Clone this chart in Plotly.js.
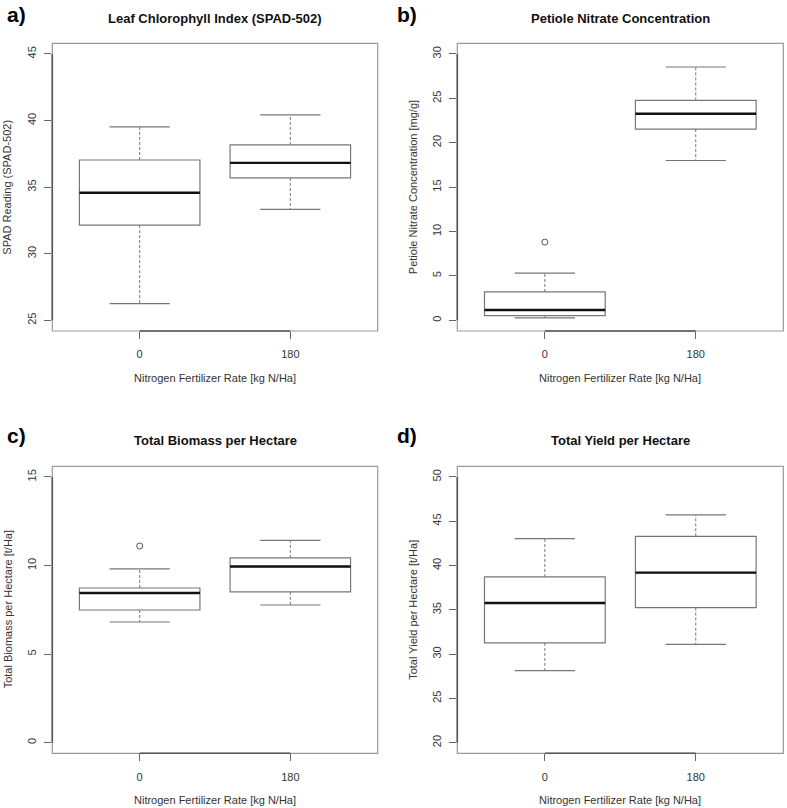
<!DOCTYPE html>
<html>
<head>
<meta charset="utf-8">
<script src="https://cdn.plot.ly/plotly-3.0.1.min.js"></script>
<style>html,body{margin:0;padding:0;background:#fff;}#chart{width:787px;height:808px;}</style>
</head>
<body>
<div id="chart"></div>
<script>
// ---- data ----
const categories = ['0', '180'];
const xTitle = 'Nitrogen Fertilizer Rate [kg N/Ha]';

const spadQ1 = [32.15, 35.69];
const spadMedian = [34.58, 36.82];
const spadQ3 = [37.04, 38.17];
const spadLow = [26.25, 33.33];
const spadHigh = [39.53, 40.43];
const spadOutliers = [[], []];
const spadTicks = [25, 30, 35, 40, 45];

const nitrateQ1 = [0.53, 21.53];
const nitrateMedian = [1.17, 23.26];
const nitrateQ3 = [3.2, 24.77];
const nitrateLow = [0.27, 18.0];
const nitrateHigh = [5.31, 28.53];
const nitrateOutliers = [[8.81], []];
const nitrateTicks = [0, 5, 10, 15, 20, 25, 30];

const biomassQ1 = [7.49, 8.51];
const biomassMedian = [8.45, 9.94];
const biomassQ3 = [8.73, 10.43];
const biomassLow = [6.81, 7.77];
const biomassHigh = [9.81, 11.42];
const biomassOutliers = [[11.1], []];
const biomassTicks = [0, 5, 10, 15];

const yieldQ1 = [31.26, 35.25];
const yieldMedian = [35.77, 39.2];
const yieldQ3 = [38.71, 43.3];
const yieldLow = [28.13, 31.1];
const yieldHigh = [43.04, 45.71];
const yieldOutliers = [[], []];
const yieldTicks = [20, 25, 30, 35, 40, 45, 50];

const panels = [
  {letter: 'a)', title: 'Leaf Chlorophyll Index (SPAD-502)', ytitle: 'SPAD Reading (SPAD-502)',
   q1: spadQ1, med: spadMedian, q3: spadQ3, lo: spadLow, hi: spadHigh, out: spadOutliers, ticks: spadTicks},
  {letter: 'b)', title: 'Petiole Nitrate Concentration', ytitle: 'Petiole Nitrate Concentration [mg/g]',
   q1: nitrateQ1, med: nitrateMedian, q3: nitrateQ3, lo: nitrateLow, hi: nitrateHigh, out: nitrateOutliers, ticks: nitrateTicks},
  {letter: 'c)', title: 'Total Biomass per Hectare', ytitle: 'Total Biomass per Hectare [t/Ha]',
   q1: biomassQ1, med: biomassMedian, q3: biomassQ3, lo: biomassLow, hi: biomassHigh, out: biomassOutliers, ticks: biomassTicks},
  {letter: 'd)', title: 'Total Yield per Hectare', ytitle: 'Total Yield per Hectare [t/Ha]',
   q1: yieldQ1, med: yieldMedian, q3: yieldQ3, lo: yieldLow, hi: yieldHigh, out: yieldOutliers, ticks: yieldTicks}
];

// ---- style / layout ----
const W = 787, H = 808;
const FONT = 'Liberation Sans, Arial, Helvetica, sans-serif';
const xDomains = [[52.3 / W, 377.7 / W], [457.3 / W, 783.3 / W]];
const yDomains = [[1 - 331 / H, 1 - 43.3 / H], [1 - 753.3 / H, 1 - 466.3 / H]];
const boxWidth = 0.8, capHalf = 0.2;
const pos = categories.map((c, i) => i + 1);

const traces = [];
const layout = {
  width: W, height: H, margin: {l: 0, r: 0, t: 0, b: 0},
  paper_bgcolor: '#fff', plot_bgcolor: '#fff', showlegend: false,
  font: {family: FONT, size: 11, color: '#333'},
  annotations: [], shapes: []
};

panels.forEach((p, k) => {
  const col = k % 2, row = Math.floor(k / 2);
  const xa = 'x' + (k === 0 ? '' : k + 1), ya = 'y' + (k === 0 ? '' : k + 1);
  const xk = 'xaxis' + (k === 0 ? '' : k + 1), yk = 'yaxis' + (k === 0 ? '' : k + 1);
  const tmin = Math.min(...p.ticks), tmax = Math.max(...p.ticks), ext = 0.04 * (tmax - tmin);

  layout[xk] = {
    domain: xDomains[col], anchor: ya, range: [0.42, 2.58],
    tickmode: 'array', tickvals: pos, ticktext: categories,
    ticks: 'outside', ticklen: 7, tickcolor: '#666', tickwidth: 1,
    showgrid: false, zeroline: false, showline: false, fixedrange: true,
    tickfont: {family: FONT, size: 11, color: '#333'}, ticklabelstandoff: 6
  };
  layout[yk] = {
    domain: yDomains[row], anchor: xa, range: [tmin - ext, tmax + ext],
    tickmode: 'array', tickvals: p.ticks, tickangle: -90,
    ticks: 'outside', ticklen: 7, tickcolor: '#666', tickwidth: 1,
    showgrid: false, zeroline: false, showline: false, fixedrange: true,
    tickfont: {family: FONT, size: 11, color: '#333'}, ticklabelstandoff: 4
  };

  // frame
  layout.shapes.push({type: 'rect', xref: xa + ' domain', yref: ya + ' domain', x0: 0, x1: 1, y0: 0, y1: 1,
    line: {color: '#9a9a9a', width: 1.2}, layer: 'above'});
  // axis lines (first to last tick)
  layout.shapes.push({type: 'line', xref: xa, yref: ya + ' domain', x0: pos[0], x1: pos[pos.length - 1], y0: 0, y1: 0,
    line: {color: '#555', width: 1.6}, layer: 'above'});
  layout.shapes.push({type: 'line', xref: xa + ' domain', yref: ya, x0: 0, x1: 0, y0: tmin, y1: tmax,
    line: {color: '#555', width: 1.6}, layer: 'above'});

  // boxes
  traces.push({type: 'box', xaxis: xa, yaxis: ya, x: pos, q1: p.q1, median: p.med, q3: p.q3,
    lowerfence: p.q1, upperfence: p.q3, width: boxWidth, fillcolor: '#fff',
    line: {color: '#777', width: 1.2}, hoverinfo: 'skip', boxpoints: false});

  // whiskers (dashed)
  const wx = [], wy = [];
  pos.forEach((x, i) => {
    wx.push(x, x, null, x, x, null);
    wy.push(p.q3[i], p.hi[i], null, p.q1[i], p.lo[i], null);
  });
  traces.push({type: 'scatter', mode: 'lines', xaxis: xa, yaxis: ya, x: wx, y: wy,
    line: {color: '#777', width: 1, dash: '3px,2px'}, hoverinfo: 'skip'});

  // caps
  const cx = [], cy = [];
  pos.forEach((x, i) => {
    cx.push(x - capHalf, x + capHalf, null, x - capHalf, x + capHalf, null);
    cy.push(p.hi[i], p.hi[i], null, p.lo[i], p.lo[i], null);
  });
  traces.push({type: 'scatter', mode: 'lines', xaxis: xa, yaxis: ya, x: cx, y: cy,
    line: {color: '#777', width: 1.2}, hoverinfo: 'skip'});

  // medians (thick)
  const mx = [], my = [];
  pos.forEach((x, i) => {
    mx.push(x - boxWidth / 2, x + boxWidth / 2, null);
    my.push(p.med[i], p.med[i], null);
  });
  traces.push({type: 'scatter', mode: 'lines', xaxis: xa, yaxis: ya, x: mx, y: my,
    line: {color: '#111', width: 2.4}, hoverinfo: 'skip'});

  // outliers
  const ox = [], oy = [];
  pos.forEach((x, i) => p.out[i].forEach(v => { ox.push(x); oy.push(v); }));
  traces.push({type: 'scatter', mode: 'markers', xaxis: xa, yaxis: ya, x: ox, y: oy,
    marker: {symbol: 'circle-open', size: 6, color: '#555', line: {width: 1}}, hoverinfo: 'skip'});

  // titles & labels
  const xc = (xDomains[col][0] + xDomains[col][1]) / 2;
  const titleY = row === 0 ? 18.5 : 440.5;
  layout.annotations.push({xref: 'paper', yref: 'paper', x: xc, y: 1 - titleY / H, text: '<b>' + p.title + '</b>',
    showarrow: false, xanchor: 'center', yanchor: 'middle', font: {family: FONT, size: 13, color: '#111'}});
  layout.annotations.push({xref: 'paper', yref: 'paper', x: (col === 0 ? 5 : 395) / W, y: 1 - (row === 0 ? 14 : 435) / H,
    text: '<b>' + p.letter + '</b>', showarrow: false, xanchor: 'left', yanchor: 'middle',
    font: {family: FONT, size: 21, color: '#000'}});
  const xTitleY = row === 0 ? 377.7 : 800;
  layout.annotations.push({xref: 'paper', yref: 'paper', x: xc, y: 1 - xTitleY / H, text: xTitle,
    showarrow: false, xanchor: 'center', yanchor: 'middle', font: {family: FONT, size: 11, color: '#333'}});
  const yc = (yDomains[row][0] + yDomains[row][1]) / 2;
  layout.annotations.push({xref: 'paper', yref: 'paper', x: (col === 0 ? 7.5 : 413) / W, y: yc, text: p.ytitle,
    textangle: -90, showarrow: false, xanchor: 'center', yanchor: 'middle', font: {family: FONT, size: 11, color: '#333'}});
});

Plotly.newPlot('chart', traces, layout, {displayModeBar: false, staticPlot: true});
</script>
</body>
</html>
